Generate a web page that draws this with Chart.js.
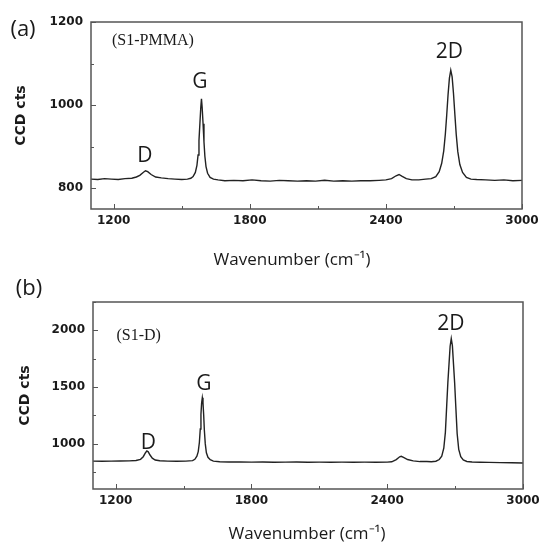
<!DOCTYPE html>
<html>
<head>
<meta charset="utf-8">
<script src="https://cdn.jsdelivr.net/npm/chart.js@4.4.1/dist/chart.umd.min.js"></script>
<style>
  body { margin: 0; background: #fff; }
  .panel { position: absolute; left: 0; width: 539px; height: 272px; }
</style>
</head>
<body>
<div class="panel" style="top:0"><canvas id="chartA" width="539" height="272"></canvas></div>
<div class="panel" style="top:272px"><canvas id="chartB" width="539" height="272"></canvas></div>
<script>
// Raman spectra, values
const waveA = [1100, 1130, 1160, 1190, 1220, 1250, 1280, 1300, 1315, 1330, 1340, 1350, 1365, 1385, 1410, 1440,
    1470, 1500, 1525, 1540, 1550, 1560, 1567, 1572, 1576, 1580, 1584, 1587, 1590, 1594, 1598, 1602, 1607, 1614,
    1625, 1640, 1660, 1690, 1730, 1770, 1810, 1850, 1890, 1930, 1970, 2010, 2050, 2090, 2130, 2170, 2210, 2250,
    2290, 2330, 2370, 2400, 2425, 2445, 2458, 2470, 2490, 2515, 2545, 2575, 2600, 2620, 2635, 2646, 2655, 2662,
    2668, 2674, 2680, 2686, 2692, 2698, 2704, 2710, 2717, 2726, 2738, 2755, 2775, 2800, 2840, 2880, 2920, 2960, 3000];
const ctsA = [822, 821, 823, 822, 821, 823, 824, 827, 831, 838, 842, 840, 833, 827, 825, 823,
    822, 821, 822, 824, 828, 838, 855, 880, 915, 955, 995, 1015, 995, 955, 912, 877, 852, 836,
    826, 822, 820, 818, 819, 818, 820, 818, 817, 819, 818, 817, 818, 817, 819, 817, 818, 817,
    818, 818, 819, 820, 823, 830, 833, 829, 823, 820, 820, 822, 823, 828, 840, 860, 890, 930,
    975, 1025, 1065, 1084, 1068, 1028, 978, 930, 888, 857, 838, 826, 822, 821, 820, 819, 820, 818, 819];

const waveB = [1100, 1140, 1180, 1220, 1260, 1290, 1310, 1322, 1332, 1338, 1344, 1352, 1362, 1375, 1395, 1430,
    1470, 1510, 1540, 1550, 1559, 1565, 1570, 1574, 1577, 1580, 1583, 1586, 1589, 1592, 1596, 1601, 1608, 1618,
    1632, 1660, 1700, 1750, 1800, 1850, 1900, 1950, 2000, 2050, 2100, 2150, 2200, 2250, 2300, 2350, 2400, 2420,
    2440, 2455, 2462, 2472, 2490, 2515, 2545, 2575, 2595, 2615, 2630, 2641, 2650, 2657, 2663, 2668, 2673, 2678,
    2683, 2688, 2693, 2698, 2703, 2709, 2716, 2725, 2736, 2752, 2775, 2810, 2850, 2900, 2950, 3000];
const ctsB = [846, 845, 846, 847, 848, 852, 862, 885, 920, 936, 928, 900, 872, 856, 849, 846,
    845, 846, 850, 862, 890, 930, 1010, 1130, 1260, 1360, 1405, 1360, 1255, 1120, 1000, 920, 880, 858,
    846, 840, 838, 838, 837, 838, 836, 837, 838, 836, 837, 836, 837, 836, 837, 836, 837, 840,
    860, 884, 888, 878, 860, 848, 842, 842, 840, 845, 860, 890, 960, 1100, 1340, 1540, 1700, 1860,
    1927, 1865, 1700, 1535, 1330, 1090, 950, 885, 856, 843, 838, 836, 835, 833, 832, 830];

const xTickValues = [1200, 1500, 1800, 2100, 2400, 2700, 3000];
const xTickLabels = ['1200', '', '1800', '', '2400', '', '3000'];
const yTickValuesA = [800, 900, 1000, 1100, 1200];
const yTickLabelsA = ['800', '', '1000', '', '1200'];
const yTickValuesB = [750, 1000, 1250, 1500, 1750, 2000, 2250];
const yTickLabelsB = ['', '1000', '', '1500', '', '2000', ''];

const tickFont = { family: 'DejaVu Sans', weight: 'bold', size: 12 };
const frameColor = '#555';

// boxed frame with short inward ticks (minor ticks have no label)
const frameTicks = {
    id: 'frameTicks',
    afterDatasetsDraw(chart) {
        const { ctx, chartArea: a, scales: { x, y } } = chart;
        ctx.save();
        ctx.strokeStyle = frameColor;
        ctx.lineWidth = 1.5;
        ctx.strokeRect(a.left, a.top, a.right - a.left, a.bottom - a.top);
        ctx.lineWidth = 1;
        ctx.beginPath();
        x.ticks.forEach(t => {
            const px = Math.round(x.getPixelForValue(t.value)) + 0.5;
            ctx.moveTo(px, a.bottom);
            ctx.lineTo(px, a.bottom - (t.label ? 5 : 3));
        });
        y.ticks.forEach(t => {
            const py = Math.round(y.getPixelForValue(t.value)) + 0.5;
            ctx.moveTo(a.left, py);
            ctx.lineTo(a.left + (t.label ? 5 : 3), py);
        });
        ctx.stroke();
        ctx.restore();
    }
};

// panel letter, x title, sample name and peak names
const notesPlugin = {
    id: 'notes',
    afterDraw(chart, args, opts) {
        const { ctx, scales: { x, y } } = chart;
        ctx.save();
        ctx.fillStyle = '#1a1a1a';
        ctx.textAlign = 'center';
        ctx.textBaseline = 'middle';
        ctx.font = '22px "Open Sans"';
        ctx.fillText(opts.panel.text, opts.panel.px, opts.panel.py);
        // x title sits a bit off centre in the figure, so it is placed by hand
        ctx.font = '17px "Open Sans"';
        ctx.fillText('Wavenumber (cm⁻¹)', opts.xTitle.px, opts.xTitle.py);
        ctx.font = '16px "Liberation Serif"';
        ctx.fillText(opts.sample.text, x.getPixelForValue(opts.sample.x), y.getPixelForValue(opts.sample.y));
        ctx.font = '21px "Open Sans"';
        opts.peaks.forEach(p => {
            ctx.fillText(p.text, x.getPixelForValue(p.x), y.getPixelForValue(p.y));
        });
        ctx.restore();
    }
};

function makeChart(canvasId, wave, cts, cfg) {
    const ctx = document.getElementById(canvasId);
    return new Chart(ctx, {
        type: 'line',
        data: {
            datasets: [{
                data: wave.map((w, i) => ({ x: w, y: cts[i] })),
                borderColor: '#222',
                borderWidth: 1.4,
                pointRadius: 0,
                tension: 0
            }]
        },
        options: {
            responsive: false,
            animation: false,
            layout: { padding: { top: cfg.top, right: cfg.right, left: 0, bottom: 0 } },
            scales: {
                x: {
                    type: 'linear',
                    min: 1100,
                    max: 3000,
                    afterBuildTicks: s => { s.ticks = xTickValues.map(v => ({ value: v })); },
                    afterFit: s => {
                        s.height = cfg.xHeight;
                        // let the "3000" label hang past the frame like in the figure
                        s.paddingLeft = 0;
                        s.paddingRight = 0;
                    },
                    grid: { display: false, drawTicks: false },
                    border: { display: false },
                    ticks: {
                        autoSkip: false,
                        maxRotation: 0,
                        padding: 5,
                        color: '#1a1a1a',
                        font: tickFont,
                        callback: v => xTickLabels[xTickValues.indexOf(v)]
                    },
                    title: { display: false }
                },
                y: {
                    min: cfg.yMin,
                    max: cfg.yMax,
                    afterBuildTicks: s => { s.ticks = cfg.yTicks.map(v => ({ value: v })); },
                    afterFit: s => { s.width = cfg.yWidth; },
                    grid: { display: false, drawTicks: false },
                    border: { display: false },
                    ticks: {
                        padding: 8,
                        color: '#1a1a1a',
                        font: tickFont,
                        callback: v => cfg.yLabels[cfg.yTicks.indexOf(v)]
                    },
                    title: {
                        display: true,
                        text: 'CCD cts',
                        color: '#1a1a1a',
                        font: { family: 'DejaVu Sans', weight: 'bold', size: 14 },
                        padding: { top: cfg.yTitlePad, bottom: 0 }
                    }
                }
            },
            plugins: {
                legend: { display: false },
                tooltip: { enabled: false },
                notes: cfg.notes
            }
        },
        plugins: [frameTicks, notesPlugin]
    });
}

makeChart('chartA', waveA, ctsA, {
    top: 22, right: 17, xHeight: 63, yWidth: 91, yTitlePad: 12.6,
    yMin: 750, yMax: 1200, yTicks: yTickValuesA, yLabels: yTickLabelsA,
    notes: {
        panel: { text: '(a)', px: 23, py: 30 },
        xTitle: { px: 292, py: 260 },
        sample: { text: '(S1-PMMA)', x: 1373, y: 1154 },
        peaks: [
            { text: 'D', x: 1338, y: 877 },
            { text: 'G', x: 1580, y: 1055 },
            { text: '2D', x: 2680, y: 1127 }
        ]
    }
});

makeChart('chartB', waveB, ctsB, {
    top: 30, right: 16, xHeight: 55, yWidth: 93, yTitlePad: 16.6,
    yMin: 600, yMax: 2250, yTicks: yTickValuesB, yLabels: yTickLabelsB,
    notes: {
        panel: { text: '(b)', px: 29, py: 17 },
        xTitle: { px: 307, py: 262 },
        sample: { text: '(S1-D)', x: 1302, y: 1953 },
        peaks: [
            { text: 'D', x: 1345, y: 1009 },
            { text: 'G', x: 1590, y: 1529 },
            { text: '2D', x: 2681, y: 2059 }
        ]
    }
});
</script>
</body>
</html>
